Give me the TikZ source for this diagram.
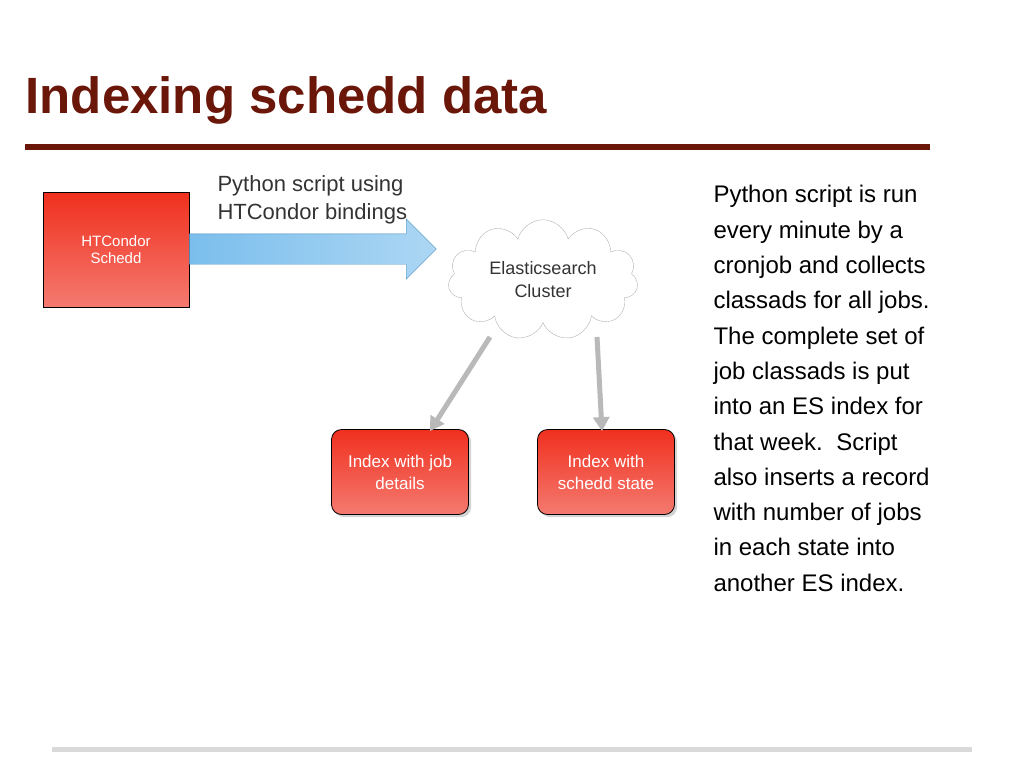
\documentclass[tikz,border=0pt]{standalone}
\usepackage{fontspec}
\setmainfont{Liberation Sans}
\usetikzlibrary{shapes.symbols,shapes.arrows,arrows.meta,shadows}
\definecolor{titlered}{HTML}{6A1608}
\definecolor{boxred}{HTML}{F0301E}
\definecolor{boxpink}{HTML}{F47A70}
\definecolor{arrowblue}{HTML}{5AAEE8}
\tikzset{
  redbox/.style={draw=black, top color=boxred, bottom color=boxpink, text=white, align=center, font=\fontsize{16}{19}\selectfont},
  idxbox/.style={redbox, rounded corners=10pt, thick, minimum width=137, minimum height=85, font=\fontsize{17}{22}\selectfont, drop shadow={opacity=0.35}},
  grayarrow/.style={line width=5pt, draw=gray!55, -{Triangle[length=14pt,width=16pt]}},
}
\begin{document}
\begin{tikzpicture}[x=1pt,y=-1pt]
  \useasboundingbox (0,0) rectangle (1024,768);
  % title
  \node[anchor=west, text=titlered, font=\fontsize{51}{55}\selectfont\bfseries] (title) at (22,100) {Indexing schedd data};
  \draw[titlered, line width=6pt] (25,147) -- (930,147); % rule
  % schedd
  \node[redbox, minimum width=146, minimum height=115, font=\fontsize{15}{17}\selectfont] (schedd) at (116,250) {HTCondor\\Schedd};
  \node[single arrow, draw=arrowblue!80!black, left color=arrowblue!80, right color=arrowblue!50, minimum height=247, text height=15pt, text depth=15pt, single arrow head extend=15pt, inner sep=0pt, anchor=tail] (py) at (schedd.east |- 0,249) {};
  \node[anchor=north west, align=left, text=black!80, font=\fontsize{22}{28}\selectfont] (pylabel) at (214,172) {Python script using\\HTCondor bindings};
  % cluster
  \node[cloud, cloud puffs=11, aspect=1.8, draw=gray!60, fill=white, minimum width=190, minimum height=112, align=center, text=black!80, font=\fontsize{18}{23}\selectfont] (es) at (543,280) {Elasticsearch\\Cluster};
  % indices
  \node[idxbox] (jobs) at (400,472) {Index with job\\details};
  \node[idxbox] (state) at (606,472) {Index with\\schedd state};
  \coordinate (esleft) at (490,337);
  \coordinate (esright) at (597,337);
  \draw[grayarrow] (esleft) -- ([xshift=30pt,yshift=-2pt]jobs.north);
  \draw[grayarrow] (esright) -- ([xshift=-4pt,yshift=-2pt]state.north);
  % description
  \node[anchor=north west, align=left, font=\fontsize{24}{35.3}\selectfont] (desc) at (710,182) {Python script is run\\every minute by a\\cronjob and collects\\classads for all jobs.\\The complete set of\\job classads is put\\into an ES index for\\that week.\ \ Script\\also inserts a record\\with number of jobs\\in each state into\\another ES index.};
  \draw[gray!30, line width=5pt] (52,749) -- (972,749); % footer
\end{tikzpicture}
\end{document}
